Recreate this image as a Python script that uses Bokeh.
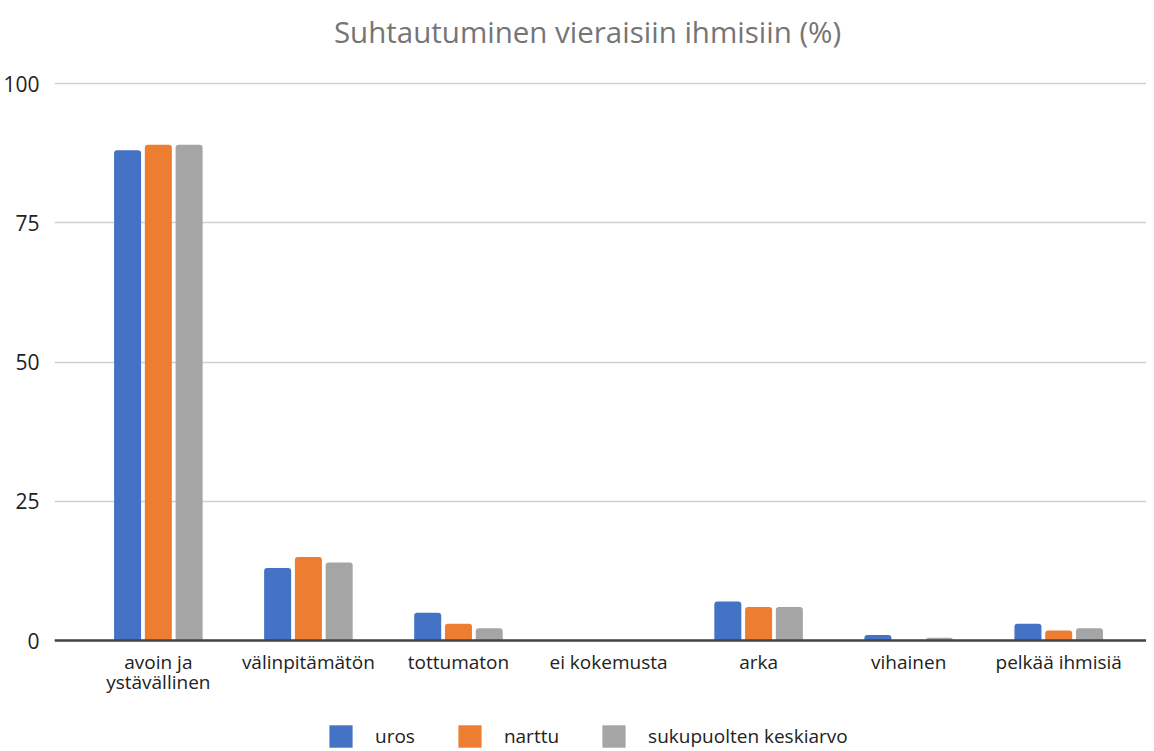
from bokeh.plotting import figure
from bokeh.models import ColumnDataSource, Range1d, FixedTicker, Legend, LegendItem, Label
from bokeh.embed import file_html
from bokeh.resources import INLINE

title_text = "Suhtautuminen vieraisiin ihmisiin (%)"
categories = ["avoin ja\nystävällinen", "välinpitämätön", "tottumaton", "ei kokemusta",
              "arka", "vihainen", "pelkää ihmisiä"]
series_names = ["uros", "narttu", "sukupuolten keskiarvo"]
uros = [88, 13, 5, 0, 7, 1, 3]
narttu = [89, 15, 3, 0, 6, 0, 1.8]
keskiarvo = [89, 14, 2.2, 0, 6, 0.5, 2.2]
colors = ["#4472C4", "#ED7D31", "#A5A5A5"]
y_ticks = [0, 25, 50, 75, 100]

FONT = "Open Sans"
W, H = 1146, 750
LEFT = 48
# layout: value 100 sits 83px below the top, value 0 sits 110px above the bottom
TOP_PAD, BOTTOM_PAD = 83, 110
plot_h = H - TOP_PAD - BOTTOM_PAD
py = plot_h / 100.0
y0 = -BOTTOM_PAD / py
y1 = 100 + TOP_PAD / py
x0, x1 = -0.692, 6.585
px = (W - LEFT) / (x1 - x0)

p = figure(width=W, height=H, output_backend="svg", toolbar_location=None,
           x_range=Range1d(x0, x1), y_range=Range1d(y0, y1),
           min_border_left=LEFT, min_border_right=0, min_border_top=0, min_border_bottom=0)

# title (inside the frame, centred on the page)
p.add_layout(Label(x=x0 + (584 - LEFT) / px, y=y1 - 31 / py, text=title_text,
                   text_align="center", text_baseline="middle",
                   text_font=FONT, text_font_size="29.5px", text_color="#757575"))

idx = list(range(len(categories)))
offsets = [-0.205, 0.0, 0.205]
renderers = []
for vals, off, col in zip([uros, narttu, keskiarvo], offsets, colors):
    src = ColumnDataSource(dict(x=[i + off for i in idx], top=vals))
    r = p.vbar(x="x", top="top", width=0.18, source=src, fill_color=col, line_color=None,
               border_radius=(3, 3, 0, 0))
    renderers.append(r)

p.xgrid.visible = False
p.ygrid.ticker = FixedTicker(ticks=y_ticks)
p.ygrid.grid_line_color = "#CFCFCF"
p.ygrid.grid_line_width = 1.5
p.outline_line_color = None

p.yaxis.ticker = FixedTicker(ticks=y_ticks)
p.yaxis.axis_line_color = None
p.yaxis.major_tick_line_color = None
p.yaxis.minor_tick_line_color = None
p.yaxis.major_label_text_font = FONT
p.yaxis.major_label_text_font_size = "21px"
p.yaxis.major_label_text_color = "#222222"
p.yaxis.major_label_standoff = 9

p.xaxis.fixed_location = 0
p.xaxis.ticker = FixedTicker(ticks=idx)
p.xaxis.major_label_overrides = {i: c for i, c in zip(idx, categories)}
p.xaxis.axis_line_color = "#444444"
p.xaxis.axis_line_width = 2.5
p.xaxis.major_tick_line_color = None
p.xaxis.minor_tick_line_color = None
p.xaxis.major_label_text_font = FONT
p.xaxis.major_label_text_font_size = "19px"
p.xaxis.major_label_text_line_height = 0.8
p.xaxis.major_label_text_color = "#222222"
p.xaxis.major_label_standoff = 2

legend = Legend(items=[LegendItem(label=n, renderers=[r]) for n, r in zip(series_names, renderers)],
                orientation="horizontal", location=(272, 0),
                glyph_width=29, glyph_height=28, label_standoff=20, spacing=40,
                label_text_font=FONT, label_text_font_size="19px", label_text_color="#222222",
                border_line_color=None, background_fill_alpha=0, margin=0, padding=0)
p.add_layout(legend, "center")

open("out.html", "w").write(file_html(p, INLINE))
